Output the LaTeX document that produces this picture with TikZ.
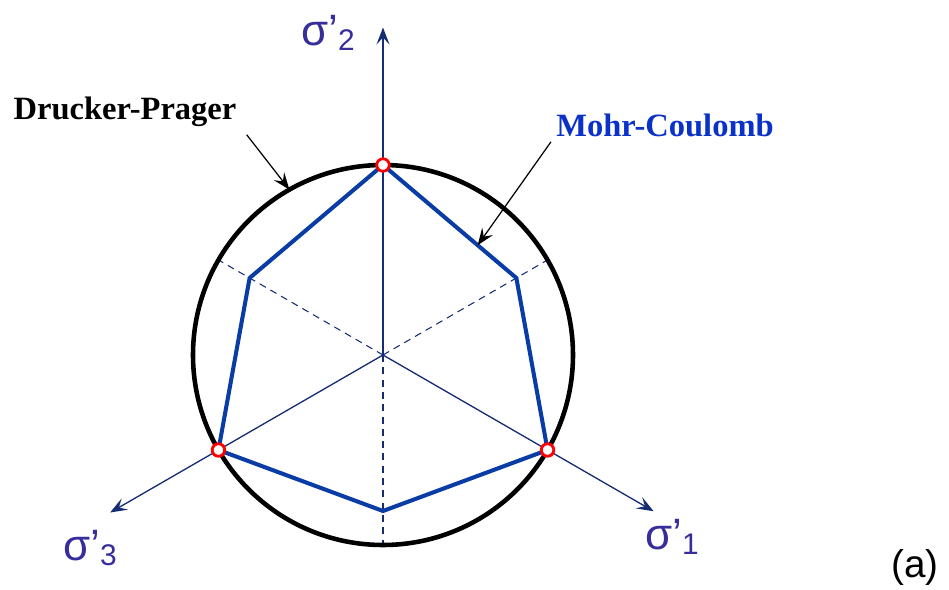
\documentclass[tikz,border=0pt]{standalone}
\usepackage{fontspec}
\setmainfont{Liberation Serif}
\setsansfont{Liberation Sans}
\usetikzlibrary{arrows.meta,calc}
\definecolor{axisblue}{RGB}{20,45,115}
\definecolor{labblue}{RGB}{55,45,155}
\definecolor{mcblue}{RGB}{10,60,165}
\definecolor{mctext}{RGB}{10,50,200}
\tikzset{
  axis/.style    = {draw=axisblue, line width=0.75pt,
                    -{Stealth[length=3.4mm, width=2.6mm, inset=1.4mm]}},
  guide/.style   = {draw=axisblue, line width=0.6pt, dashed, dash pattern=on 4pt off 3pt},
  yield/.style   = {draw=black, line width=2.6pt},
  hexa/.style    = {draw=mcblue, line width=2.3pt, line join=miter},
  meet/.style    = {circle, draw=red, fill=white, line width=1.6pt,
                    minimum size=0.25cm, inner sep=0pt},
  point/.style   = {-{Stealth[length=3.4mm, width=2.6mm, inset=1.3mm]}, draw=black, line width=0.7pt},
  axlab/.style   = {font=\sffamily\fontsize{25}{28}\selectfont, text=labblue, inner sep=0pt},
  curvelab/.style= {font=\bfseries\fontsize{18.5}{22}\selectfont, inner sep=0pt}
}
\newcommand{\sig}[1]{σ’\raisebox{-3pt}{\fontsize{17}{19}\selectfont #1}}
\begin{document}
\begin{tikzpicture}
  \useasboundingbox (0,0) rectangle (18.98,11.8);
  \coordinate (O) at (7.66,4.7);
  % axes and guides
  \coordinate (t1) at ($(O)+(-30:6.25)$);
  \coordinate (t2) at ($(O)+(90:6.55)$);
  \coordinate (t3) at ($(O)+(210:6.3)$);
  \foreach \a in {30,150,270}
    \draw[guide] (O) -- ($(O)+(\a:3.8)$);
  \draw[axis] (O) -- (t1);
  \draw[axis] (O) -- (t2);
  \draw[axis] (O) -- (t3);
  % Drucker-Prager circle
  \draw[yield] (O) circle (3.8);
  % Mohr-Coulomb hexagon
  \coordinate (m90)  at ($(O)+(90:3.8)$);
  \coordinate (m30)  at ($(O)+(30:3.08)$);
  \coordinate (m-30) at ($(O)+(-30:3.8)$);
  \coordinate (m270) at ($(O)+(270:3.12)$);
  \coordinate (m210) at ($(O)+(210:3.8)$);
  \coordinate (m150) at ($(O)+(150:3.08)$);
  \draw[hexa] (m90) -- (m30) -- (m-30) -- (m270) -- (m210) -- (m150) -- cycle;
  \node[meet] (p2) at (m90) {};
  \node[meet] (p1) at (m-30) {};
  \node[meet] (p3) at (m210) {};
  % labels
  \node[axlab] (s2) at (6.56,11.14) {\sig{2}};
  \node[axlab] (s1) at (13.44,1.06) {\sig{1}};
  \node[axlab] (s3) at (1.8,0.84) {\sig{3}};
  \node[font=\sffamily\fontsize{22}{24}\selectfont, inner sep=0pt] (tag) at (18.3,0.46) {(a)};
  \node[curvelab] (dp) at (2.5,9.56) {Drucker-Prager};
  \node[curvelab, text=mctext] (mc) at (13.3,9.3) {Mohr-Coulomb};
  \coordinate (dptip) at ($(O)+(119.5:3.8)$);
  \coordinate (mctip) at ($(m90)!0.71!(m30)$);
  \draw[point] ($(dp.south east)+(0.2,-0.15)$) -- (dptip);
  \draw[point] ($(mc.south west)+(-0.1,-0.1)$) -- (mctip);
\end{tikzpicture}
\end{document}
